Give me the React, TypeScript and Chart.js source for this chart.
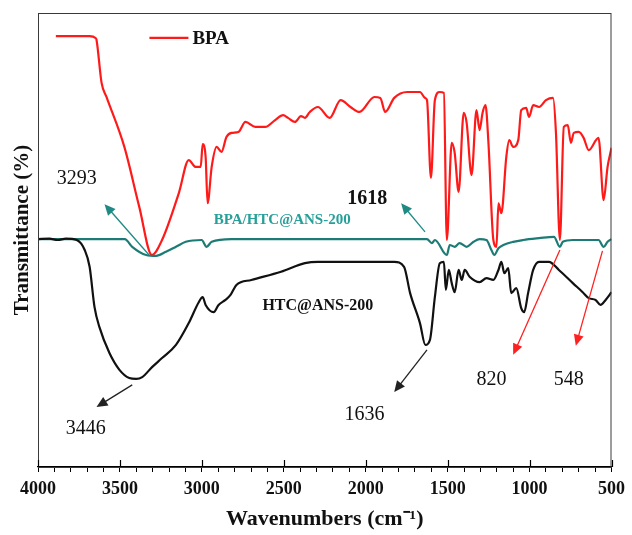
import React, { useEffect, useRef } from "react";
import { Chart, registerables } from "chart.js";

Chart.register(...registerables);

// ---- Data (wavenumber cm-1, transmittance a.u.) ----
const bpaWave = [3891, 3685, 3649, 3643, 3612, 3582, 3473, 3382, 3305, 3243, 3140, 3080, 3037, 3007, 2995, 2977, 2965, 2940, 2910, 2880, 2850, 2819, 2777, 2734, 2674, 2613, 2553, 2504, 2474, 2432, 2395, 2371, 2341, 2292, 2220, 2153, 2093, 2038, 1947, 1911, 1881, 1826, 1747, 1669, 1638, 1626, 1602, 1578, 1548, 1523, 1505, 1475, 1457, 1433, 1402, 1384, 1354, 1324, 1305, 1287, 1269, 1251, 1221, 1202, 1190, 1172, 1142, 1124, 1100, 1069, 1051, 1021, 1003, 978, 942, 900, 857, 839, 815, 791, 767, 748, 730, 700, 670, 639, 579, 548, 524, 500];
const bpaT = [94.9, 94.9, 94.5, 94.1, 84.6, 81.5, 70.5, 57.3, 46.7, 50.0, 60.4, 67.6, 66.1, 66.1, 71.1, 68.3, 58.1, 66.1, 70.5, 69.4, 72.7, 73.6, 73.8, 76.0, 74.9, 74.9, 76.4, 77.5, 76.9, 76.0, 77.3, 76.9, 78.2, 79.3, 76.9, 80.8, 79.3, 78.2, 81.5, 81.3, 78.2, 81.3, 82.6, 82.6, 81.3, 80.8, 63.7, 80.8, 82.6, 82.4, 50.0, 71.4, 69.2, 60.6, 78.0, 75.8, 64.3, 78.6, 74.2, 78.0, 79.7, 71.4, 50.0, 48.5, 58.1, 55.9, 68.3, 72.0, 70.5, 72.0, 78.6, 79.1, 77.1, 79.7, 79.3, 80.8, 81.3, 73.6, 50.0, 74.9, 75.3, 71.4, 73.6, 73.8, 72.5, 69.8, 72.5, 58.8, 66.1, 70.3];

const mixWave = [4000, 3470, 3425, 3340, 3279, 3219, 3158, 3098, 3001, 2971, 2940, 2819, 1626, 1596, 1578, 1505, 1487, 1457, 1427, 1384, 1342, 1305, 1263, 1233, 1215, 1190, 1160, 1100, 1039, 942, 851, 815, 797, 736, 579, 548, 524, 500];
const mixT = [50.2, 50.2, 48.5, 46.7, 46.5, 47.4, 48.5, 49.6, 50.0, 48.5, 49.6, 50.2, 50.2, 49.3, 50.0, 46.7, 48.9, 48.5, 49.3, 48.5, 49.6, 50.2, 50.0, 47.8, 46.7, 48.2, 48.9, 49.6, 50.0, 50.4, 50.7, 48.5, 49.6, 50.0, 50.0, 48.5, 49.6, 50.2];

const htcWave = [4000, 3930, 3880, 3830, 3764, 3715, 3685, 3655, 3625, 3564, 3503, 3443, 3401, 3364, 3304, 3243, 3158, 3080, 3019, 2995, 2977, 2928, 2898, 2856, 2825, 2789, 2698, 2517, 2371, 2292, 2153, 1826, 1766, 1729, 1669, 1636, 1608, 1578, 1548, 1523, 1511, 1493, 1475, 1457, 1433, 1414, 1396, 1366, 1305, 1263, 1221, 1190, 1172, 1154, 1130, 1112, 1081, 1051, 1033, 1009, 978, 942, 882, 821, 736, 676, 639, 597, 567, 536, 500];
const htcT = [50.2, 50.3, 50.0, 50.3, 50.0, 47.8, 44.1, 35.2, 30.8, 25.1, 21.4, 19.6, 19.4, 19.8, 22.0, 24.0, 26.9, 31.7, 36.3, 37.4, 35.7, 34.1, 35.7, 36.8, 37.9, 40.1, 41.2, 43.0, 44.9, 45.2, 45.2, 45.2, 44.1, 38.3, 31.7, 26.9, 28.0, 37.4, 44.9, 45.2, 39.0, 43.4, 40.5, 38.5, 43.4, 41.2, 43.4, 41.9, 40.7, 41.6, 41.2, 43.4, 45.2, 42.7, 43.8, 38.3, 39.4, 35.0, 34.1, 38.3, 43.4, 45.2, 45.2, 43.4, 40.5, 38.5, 37.2, 36.8, 35.7, 36.8, 38.5];

const xTickLabels = ["4000", "3500", "3000", "2500", "2000", "1500", "1000", "500"];

// ---- Annotations (label texts and their anchor points in data units) ----
const noteTexts = ["3293", "3446", "1618", "1636", "820", "548", "BPA/HTC@ANS-200", "HTC@ANS-200"];
const noteWave = [3764, 3709, 1990, 2008, 1233, 761, 2510, 2292];
const noteT = [63.4, 8.4, 59.0, 11.5, 19.2, 19.2, 54.4, 35.5];
// arrows: from (wave,T) to head (wave,T)
const arrowFromWave = [3322, 1638, 3425, 1626, 815, 555];
const arrowFromT = [46.7, 51.8, 18.1, 25.8, 47.8, 47.6];
const arrowToWave = [3594, 1784, 3643, 1826, 1100, 718];
const arrowToT = [57.9, 58.1, 13.2, 16.5, 24.7, 26.7];

const SERIF = "'Liberation Serif', 'Times New Roman', serif";
const RED = "#ff1a1a";
const TEAL = "#1d7b76";
const TEAL_TXT = "#27a09a";

const noteStyles = [
  { font: `20px ${SERIF}`, color: "#111" },
  { font: `20px ${SERIF}`, color: "#111" },
  { font: `bold 20px ${SERIF}`, color: "#111" },
  { font: `20px ${SERIF}`, color: "#111" },
  { font: `20px ${SERIF}`, color: "#111" },
  { font: `20px ${SERIF}`, color: "#111" },
  { font: `bold 15px ${SERIF}`, color: TEAL_TXT },
  { font: `bold 16px ${SERIF}`, color: "#111" },
];
const arrowColors = ["#1f8a84", "#1f8a84", "#222", "#222", "#ff2020", "#ff2020"];

function pts(xs: number[], ys: number[]) {
  return xs.map((x, i) => ({ x, y: ys[i] }));
}

const decorPlugin = {
  id: "decor",
  afterDraw(chart: any) {
    const { ctx, chartArea, scales } = chart;
    const xs = scales.x;
    const ys = scales.y;
    ctx.save();
    // frame
    ctx.strokeStyle = "#3a3a3a";
    ctx.lineWidth = 1;
    ctx.strokeRect(chartArea.left + 0.5, chartArea.top + 0.5, chartArea.right - chartArea.left - 1, chartArea.bottom - chartArea.top);
    // inner part of major ticks
    ctx.strokeStyle = "#000";
    ctx.lineWidth = 1.2;
    xTickLabels.forEach((t) => {
      const px = Math.round(xs.getPixelForValue(Number(t))) + 0.5;
      ctx.beginPath();
      ctx.moveTo(px, chartArea.bottom);
      ctx.lineTo(px, chartArea.bottom - 7);
      ctx.stroke();
    });
    // arrows
    arrowFromWave.forEach((w, i) => {
      const x1 = xs.getPixelForValue(w);
      const y1 = ys.getPixelForValue(arrowFromT[i]);
      const x2 = xs.getPixelForValue(arrowToWave[i]);
      const y2 = ys.getPixelForValue(arrowToT[i]);
      const ang = Math.atan2(y2 - y1, x2 - x1);
      const L = 11, W = 5;
      ctx.strokeStyle = arrowColors[i];
      ctx.fillStyle = arrowColors[i];
      ctx.lineWidth = 1.3;
      ctx.beginPath();
      ctx.moveTo(x1, y1);
      ctx.lineTo(x2 - Math.cos(ang) * L * 0.8, y2 - Math.sin(ang) * L * 0.8);
      ctx.stroke();
      ctx.beginPath();
      ctx.moveTo(x2, y2);
      ctx.lineTo(x2 - Math.cos(ang) * L - Math.sin(ang) * W, y2 - Math.sin(ang) * L + Math.cos(ang) * W);
      ctx.lineTo(x2 - Math.cos(ang) * L + Math.sin(ang) * W, y2 - Math.sin(ang) * L - Math.cos(ang) * W);
      ctx.closePath();
      ctx.fill();
    });
    // notes
    ctx.textAlign = "center";
    ctx.textBaseline = "middle";
    noteTexts.forEach((t, i) => {
      ctx.font = noteStyles[i].font;
      ctx.fillStyle = noteStyles[i].color;
      ctx.fillText(t, xs.getPixelForValue(noteWave[i]), ys.getPixelForValue(noteT[i]));
    });
    // legend (BPA)
    const lx = xs.getPixelForValue(3320);
    const ly = ys.getPixelForValue(94.5);
    ctx.strokeStyle = RED;
    ctx.lineWidth = 2.2;
    ctx.beginPath();
    ctx.moveTo(lx, ly);
    ctx.lineTo(lx + 39, ly);
    ctx.stroke();
    ctx.font = `bold 19px ${SERIF}`;
    ctx.fillStyle = "#111";
    ctx.textAlign = "left";
    ctx.fillText("BPA", lx + 43, ly + 1);
    // y axis title
    ctx.translate(23, 230);
    ctx.rotate(-Math.PI / 2);
    ctx.textAlign = "center";
    ctx.font = `bold 21px ${SERIF}`;
    ctx.fillText("Transmittance (%)", 0, 0);
    ctx.restore();
  },
};

export default function App() {
  const ref = useRef<HTMLCanvasElement | null>(null);
  useEffect(() => {
    if (!ref.current) return;
    const chart = new Chart(ref.current, {
      type: "line",
      data: {
        datasets: [
          { label: "HTC@ANS-200", data: pts(htcWave, htcT), borderColor: "#111", borderWidth: 2.2, pointRadius: 0, cubicInterpolationMode: "monotone" },
          { label: "BPA/HTC@ANS-200", data: pts(mixWave, mixT), borderColor: TEAL, borderWidth: 2.2, pointRadius: 0, cubicInterpolationMode: "monotone" },
          { label: "BPA", data: pts(bpaWave, bpaT), borderColor: RED, borderWidth: 2.2, pointRadius: 0, cubicInterpolationMode: "monotone" },
        ],
      },
      options: {
        animation: false,
        responsive: true,
        maintainAspectRatio: false,
        layout: { padding: { top: 13, right: 16, left: 0, bottom: 0 } },
        plugins: { legend: { display: false }, tooltip: { enabled: false } },
        scales: {
          x: {
            type: "linear",
            reverse: true,
            min: 500,
            max: 4000,
            afterFit: (s: any) => { s.height = 68; },
            border: { display: true, color: "#000", width: 1.3 },
            grid: { display: true, drawOnChartArea: false, drawTicks: true, tickLength: 5, color: "#000", lineWidth: 1 },
            ticks: {
              stepSize: 100,
              autoSkip: false,
              maxRotation: 0,
              maxTicksLimit: 100,
              padding: 7,
              color: "#111",
              font: { family: SERIF, size: 18, weight: "bold" },
              callback: (v: any) => (xTickLabels.includes(String(v)) ? String(v) : ""),
            },
            title: {
              display: true,
              text: "Wavenumbers (cm\u207B\u00B9)",
              color: "#111",
              font: { family: SERIF, size: 22, weight: "bold" },
              padding: { top: 0, bottom: 2 },
            },
          },
          y: {
            min: 0,
            max: 100,
            afterFit: (s: any) => { s.width = 38; },
            border: { display: false },
            grid: { display: false },
            ticks: { display: false },
          },
        },
      },
      plugins: [decorPlugin],
    });
    return () => chart.destroy();
  }, []);
  return (
    <div style={{ position: "absolute", left: 0, top: 0, width: 632, height: 535, background: "#fff" }}>
      <canvas ref={ref} />
    </div>
  );
}
